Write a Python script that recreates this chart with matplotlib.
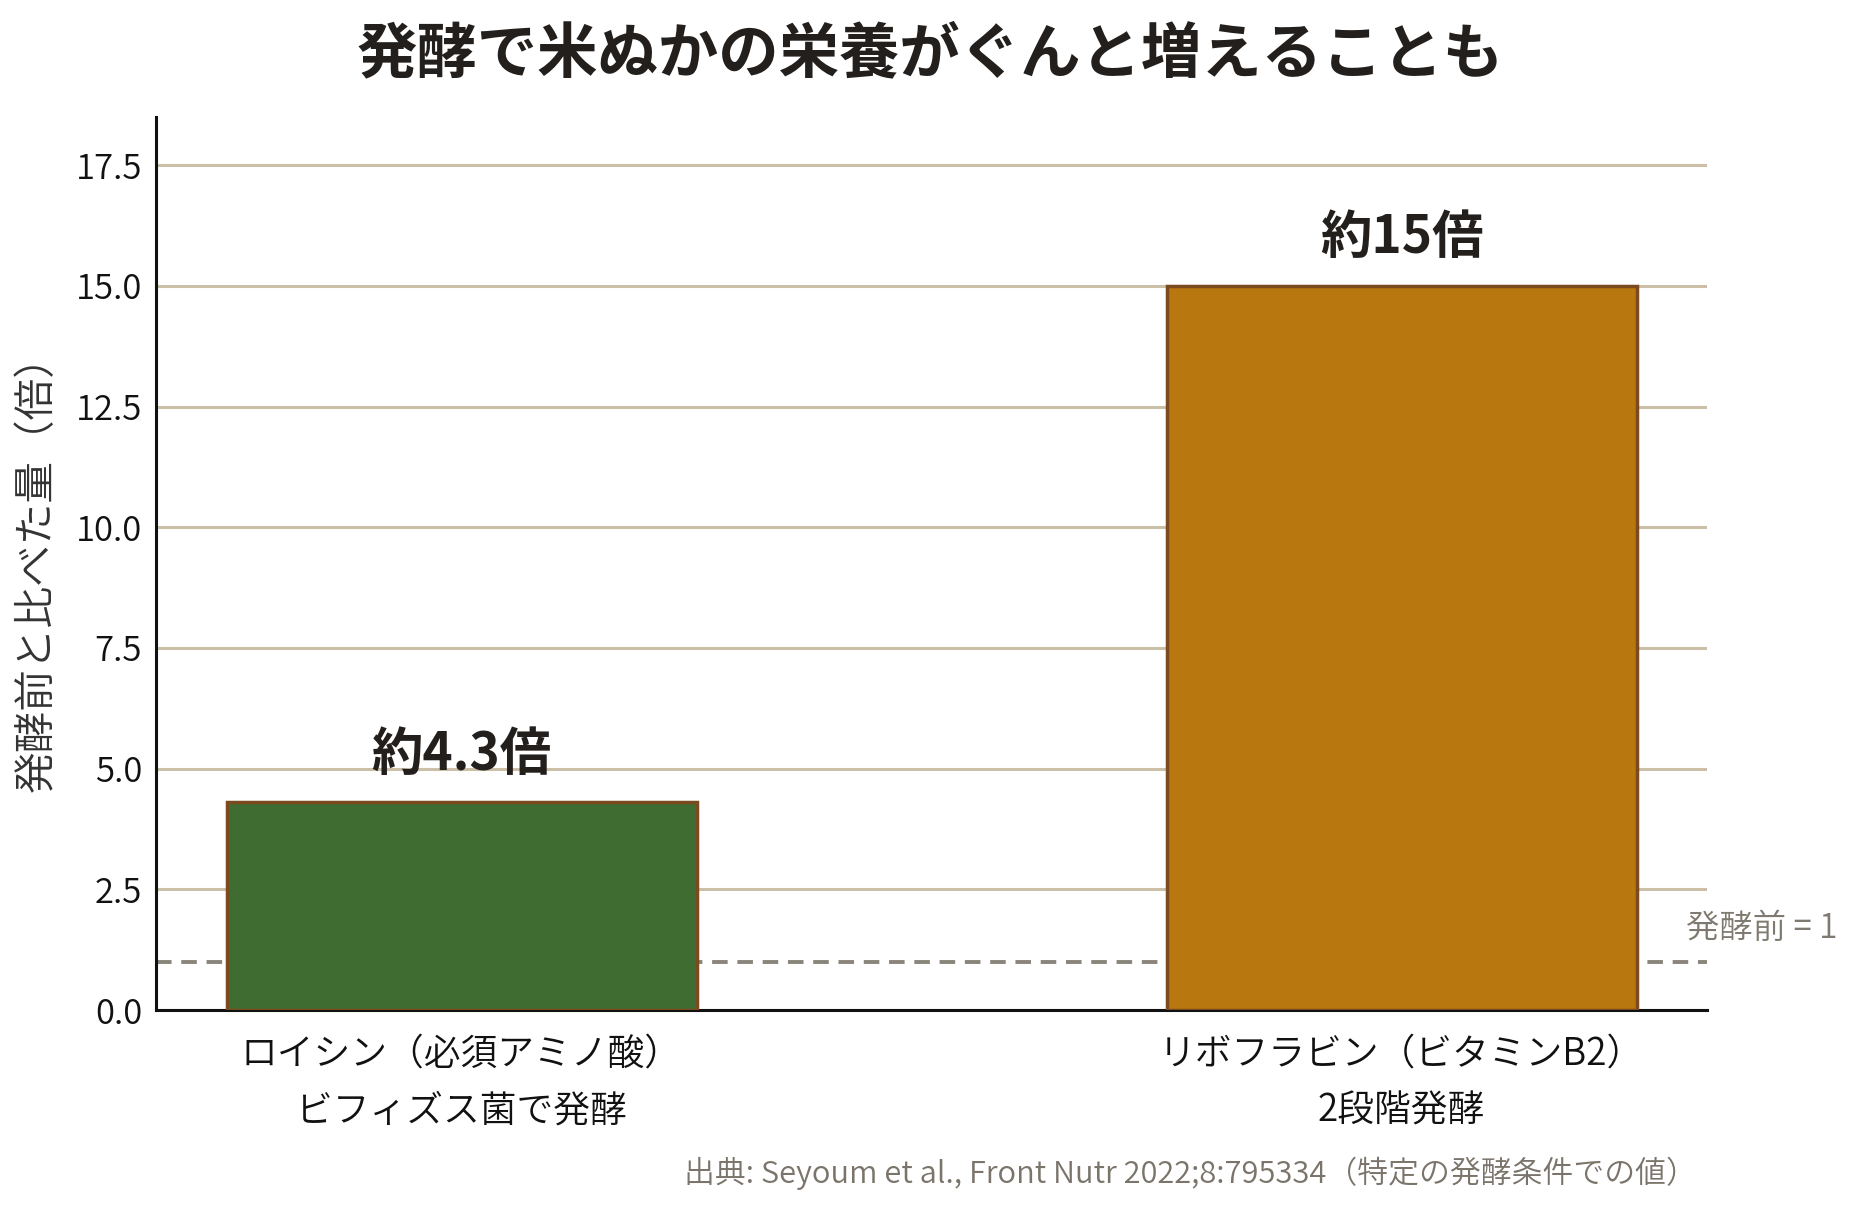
import matplotlib
matplotlib.use("Agg")
import matplotlib.pyplot as plt

plt.rcParams["font.family"] = ["Noto Sans CJK JP", "DejaVu Sans"]

# --- data ---
categories = ["ロイシン（必須アミノ酸）\nビフィズス菌で発酵",
              "リボフラビン（ビタミンB2）\n2段階発酵"]
fold_change = [4.3, 15.0]
bar_labels = ["約4.3倍", "約15倍"]
bar_colors = ["#3f6d31", "#b8770f"]
baseline = 1.0

TEXT = "#231f1c"
GRID = "#cbbfa8"
EDGE = "#7b4a1f"
GREY = "#8a857a"
W = 350  # DemiLight

fig = plt.figure(figsize=(18.61, 12.06), dpi=100)
ax = fig.add_axes([156 / 1861, 1 - 1010 / 1206, (1707 - 156) / 1861, (1010 - 117) / 1206])

x = list(range(len(categories)))
ax.bar(x, fold_change, width=0.5, color=bar_colors, edgecolor=EDGE, linewidth=2.5, zorder=3)

for xi, v, lab in zip(x, fold_change, bar_labels):
    ax.text(xi, v + 0.45, lab, ha="center", va="bottom", fontsize=37,
            fontweight="bold", color=TEXT, zorder=4)

ax.axhline(baseline, color=GREY, linestyle=(0, (4, 2.5)), linewidth=2.8, zorder=2)
ax.text(1.303, baseline + 0.33, "発酵前 = 1", ha="left", va="bottom",
        fontsize=24, fontweight=W, color="#7f7a70", clip_on=False)

ax.set_ylim(0, 18.5)
ax.set_yticks([0, 2.5, 5, 7.5, 10, 12.5, 15, 17.5])
ax.set_yticklabels([f"{t:.1f}" for t in ax.get_yticks()], fontweight=W)
ax.set_xticks(x)
ax.set_xticklabels(categories, linespacing=1.6, fontweight=W, fontsize=26.5)
ax.tick_params(axis="y", length=0, labelsize=25, colors="#111111", pad=10)
ax.tick_params(axis="x", length=0, colors="#111111", pad=18)

ax.yaxis.grid(True, color=GRID, linewidth=2.2, zorder=0)
ax.set_axisbelow(True)
for s in ["top", "right"]:
    ax.spines[s].set_visible(False)
for s in ["left", "bottom"]:
    ax.spines[s].set_linewidth(2.2)
    ax.spines[s].set_color("#111111")

ax.set_ylabel("発酵前と比べた量（倍）", fontsize=30, fontweight=W,
              color="#333333", labelpad=12)

fig.text(0.5, 1 - 55 / 1206, "発酵で米ぬかの栄養がぐんと増えることも", ha="center", va="center",
         fontsize=43.5, fontweight="bold", color=TEXT)
fig.text(1697 / 1861, 1 - 1173 / 1206,
         "出典: Seyoum et al., Front Nutr 2022;8:795334（特定の発酵条件での値）",
         ha="right", va="center", fontsize=22.2, fontweight=W, color="#7a746a")

fig.savefig("out.png", dpi=100)
